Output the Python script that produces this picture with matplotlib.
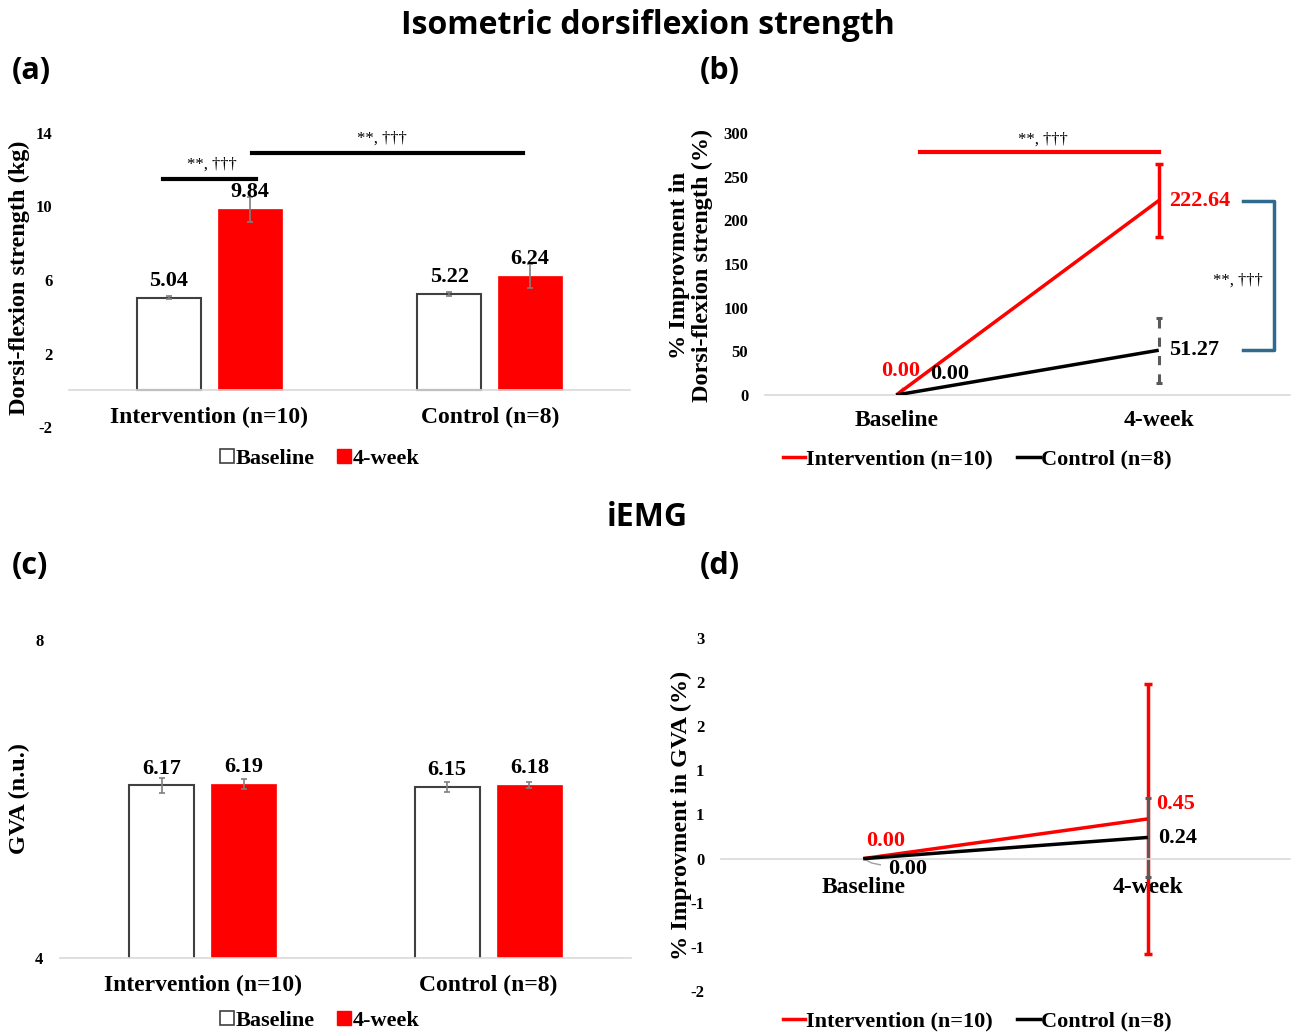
import numpy as np
import matplotlib
matplotlib.use("Agg")
import matplotlib.pyplot as plt
from matplotlib.patches import Patch
from matplotlib.lines import Line2D
from matplotlib.ticker import FuncFormatter, MultipleLocator

plt.rcParams['axes.unicode_minus'] = False

# ---------------- data ----------------
groups = ['Intervention (n=10)', 'Control (n=8)']
strength_base = [5.04, 5.22]
strength_base_err = [0.10, 0.10]
strength_4wk = [9.84, 6.24]
strength_4wk_err = [0.70, 0.65]

gva_base = [6.17, 6.15]
gva_base_err = [0.09, 0.06]
gva_4wk = [6.19, 6.18]
gva_4wk_err = [0.06, 0.04]

times = ['Baseline', '4-week']
imp_str_int = [0.00, 222.64]
imp_str_int_err = [0.0, 42.0]
imp_str_ctl = [0.00, 51.27]
imp_str_ctl_err = [0.0, 37.0]

imp_gva_int = [0.00, 0.45]
imp_gva_int_err = [0.0, 1.53]
imp_gva_ctl = [0.00, 0.24]
imp_gva_ctl_err = [0.0, 0.45]

sig_text = '**, \u2020\u2020\u2020'

# ---------------- style ----------------
W, H = 1295, 1033
SERIF = 'Liberation Serif'
SANS = ['Open Sans', 'DejaVu Sans']
RED = '#FF0000'
AXC = '#d9d9d9'
ERRC = '#7f7f7f'
CAT_FS = 17
VAL_FS = 16
TICK_FS = 12
LAB_FS = 17.5
SIG_FS = 12

fig = plt.figure(figsize=(W / 100, H / 100), dpi=100)


def rect(l, t, r, b):
    return [l / W, 1 - b / H, (r - l) / W, (b - t) / H]


def fx(x):
    return x / W


def fy(y):
    return 1 - y / H


def style_ticks(ax):
    for lab in ax.get_yticklabels():
        lab.set_fontfamily(SERIF)
        lab.set_fontweight('bold')
        lab.set_fontsize(TICK_FS)
    for lab in ax.get_xticklabels():
        lab.set_fontfamily(SERIF)
        lab.set_fontweight('bold')
        lab.set_fontsize(CAT_FS)


def clean(ax, zero_axis=False):
    for s in ['top', 'right', 'left']:
        ax.spines[s].set_visible(False)
    if zero_axis:
        ax.spines['bottom'].set_position(('data', 0))
    ax.spines['bottom'].set_color(AXC)
    ax.spines['bottom'].set_linewidth(1.2)
    ax.tick_params(axis='both', length=0)
    ax.patch.set_alpha(0)


def bar_panel(ax, base, base_err, wk, wk_err, ylim, yticks, zero_axis):
    clean(ax, zero_axis)
    x = np.arange(len(groups))
    w, off = 0.228, 0.144
    ax.bar(x - off, base, w, color='white', edgecolor='#404040', linewidth=1.5, zorder=2)
    ax.bar(x + off, wk, w, color=RED, edgecolor=RED, linewidth=0.5, zorder=2)
    ax.errorbar(x - off, base, yerr=base_err, fmt='none', ecolor=ERRC,
                elinewidth=1.2, capsize=2.5, capthick=1.2, zorder=3)
    ax.errorbar(x + off, wk, yerr=wk_err, fmt='none', ecolor=ERRC,
                elinewidth=1.2, capsize=2.5, capthick=1.2, zorder=3)
    ax.set_xlim(-0.5, 1.5)
    ax.set_ylim(*ylim)
    ax.set_yticks(yticks)
    ax.set_xticks(x)
    ax.set_xticklabels(groups)
    ax.tick_params(axis='x', pad=12)
    ax.tick_params(axis='y', pad=12)
    style_ticks(ax)
    for xi, v in zip(x - off, base):
        ax.annotate(f'{v:.2f}', (xi, v), xytext=(0, 5), textcoords='offset points',
                    ha='center', va='bottom', fontfamily=SERIF, fontweight='bold', fontsize=VAL_FS)
    for xi, v in zip(x + off, wk):
        ax.annotate(f'{v:.2f}', (xi, v), xytext=(0, 5), textcoords='offset points',
                    ha='center', va='bottom', fontfamily=SERIF, fontweight='bold', fontsize=VAL_FS)
    return x, off


# ---------------- panel (a) ----------------
axa = fig.add_axes(rect(69, 133, 630, 427))
bar_panel(axa, strength_base, strength_base_err, strength_4wk,
          strength_4wk_err, (-2, 14), [-2, 2, 6, 10, 14], True)
axa.plot([-0.164, 0.167], [11.5, 11.5], color='black', lw=3, clip_on=False)
axa.text(0.01, 11.85, sig_text, ha='center', va='bottom', fontfamily=SERIF, fontsize=SIG_FS)
axa.plot([0.153, 1.12], [12.9, 12.9], color='black', lw=3, clip_on=False)
axa.text(0.616, 13.25, sig_text, ha='center', va='bottom', fontfamily=SERIF, fontsize=SIG_FS)

# ---------------- panel (c) ----------------
axc = fig.add_axes(rect(60, 640, 631, 958))
bar_panel(axc, gva_base, gva_base_err, gva_4wk, gva_4wk_err, (4, 8), [4, 8], False)


# ---------------- line panels ----------------
def line_panel(ax, yi, yi_err, yc, yc_err, ctl_dash, zero_axis):
    clean(ax, zero_axis)
    xp = np.array([0.5, 1.5])
    ax.plot(xp, yi, color=RED, lw=2.5, zorder=3, solid_capstyle='butt')
    ax.plot(xp, yc, color='black', lw=2.5, zorder=3, solid_capstyle='butt')
    ax.errorbar(xp[1:], yi[1:], yerr=yi_err[1:], fmt='none', ecolor=RED,
                elinewidth=2.5, capsize=3, capthick=2.5, zorder=2)
    eb = ax.errorbar(xp[1:], yc[1:], yerr=yc_err[1:], fmt='none', ecolor='#595959',
                     elinewidth=2.2, capsize=2.5, capthick=2.2, zorder=2)
    if ctl_dash:
        eb[2][0].set_linestyle((0, (3, 3)))
    ax.set_xlim(0, 2)
    ax.set_xticks(xp)
    ax.set_xticklabels(times)
    ax.tick_params(axis='x', pad=11)
    ax.tick_params(axis='y', pad=12)
    return xp


axb = fig.add_axes(rect(765, 133, 1290, 395))
xp = line_panel(axb, imp_str_int, imp_str_int_err, imp_str_ctl, imp_str_ctl_err, True, False)
axb.set_ylim(0, 300)
axb.set_yticks(np.arange(0, 301, 50))
style_ticks(axb)
axb.text(xp[0] + 0.09, 27, f'{imp_str_int[0]:.2f}', color=RED, ha='right', va='center',
         fontfamily=SERIF, fontweight='bold', fontsize=VAL_FS)
axb.text(xp[0] + 0.13, 24, f'{imp_str_ctl[0]:.2f}', color='black', ha='left', va='center',
         fontfamily=SERIF, fontweight='bold', fontsize=VAL_FS)
axb.plot([xp[0], xp[0] + 0.025], [0, 8], color='#a0a0a0', lw=1)
axb.text(xp[1] + 0.04, imp_str_int[1], f'{imp_str_int[1]:.2f}', color=RED, ha='left',
         va='center', fontfamily=SERIF, fontweight='bold', fontsize=VAL_FS)
axb.text(xp[1] + 0.04, imp_str_ctl[1], f'{imp_str_ctl[1]:.2f}', color='black', ha='left',
         va='center', fontfamily=SERIF, fontweight='bold', fontsize=VAL_FS)
axb.plot([0.59, 1.5], [278, 278], color=RED, lw=3, clip_on=False)
axb.text(1.06, 283, sig_text, ha='center', va='bottom', fontfamily=SERIF, fontsize=SIG_FS)
BR = '#2E6B8C'
axb.plot([1.82, 1.94, 1.94, 1.82], [imp_str_int[1], imp_str_int[1], imp_str_ctl[1], imp_str_ctl[1]],
         color=BR, lw=2.5, clip_on=False)
axb.text(1.80, 131, sig_text, ha='center', va='center', fontfamily=SERIF, fontsize=SIG_FS)

axd = fig.add_axes(rect(721, 638, 1290, 991))
xp = line_panel(axd, imp_gva_int, imp_gva_int_err, imp_gva_ctl, imp_gva_ctl_err, False, True)
axd.set_ylim(-1.5, 2.5)
axd.yaxis.set_major_locator(MultipleLocator(0.5))


def excel_round(v, pos):
    s = -1 if v < 0 else 1
    n = int(np.floor(abs(v) + 0.5 + 1e-9))
    return str(s * n) if n != 0 else '0'


axd.yaxis.set_major_formatter(FuncFormatter(excel_round))
axd.tick_params(axis='x', pad=13)
fig.canvas.draw()
style_ticks(axd)
axd.text(xp[0] + 0.08, 0.2, f'{imp_gva_int[0]:.2f}', color=RED, ha='center', va='center',
         fontfamily=SERIF, fontweight='bold', fontsize=VAL_FS)
axd.text(xp[0] + 0.155, -0.12, f'{imp_gva_ctl[0]:.2f}', color='black', ha='center', va='center',
         fontfamily=SERIF, fontweight='bold', fontsize=VAL_FS)
axd.plot([xp[0], xp[0] + 0.03, xp[0] + 0.06], [0, -0.05, -0.07], color='#a0a0a0', lw=1)
axd.text(xp[1] + 0.03, 0.62, f'{imp_gva_int[1]:.2f}', color=RED, ha='left',
         va='center', fontfamily=SERIF, fontweight='bold', fontsize=VAL_FS)
axd.text(xp[1] + 0.035, 0.23, f'{imp_gva_ctl[1]:.2f}', color='black', ha='left',
         va='center', fontfamily=SERIF, fontweight='bold', fontsize=VAL_FS)

# ---------------- y labels ----------------
lab_kw = dict(rotation=90, ha='center', va='center', fontfamily=SERIF, fontweight='bold', fontsize=LAB_FS)
fig.text(fx(19), fy(278), 'Dorsi-flexion strength (kg)', **lab_kw)
fig.text(fx(19), fy(799), 'GVA (n.u.)', **lab_kw)
fig.text(fx(691), fy(265), '% Improvment in\nDorsi-flexion strength (%)', linespacing=1.1, **lab_kw)
fig.text(fx(681), fy(815), '% Improvment in GVA (%)', **lab_kw)

# ---------------- titles ----------------
fig.text(0.5, fy(25), 'Isometric dorsiflexion strength', ha='center', va='center',
         fontfamily=SANS, fontweight='bold', fontsize=23)
fig.text(0.5, fy(518), 'iEMG', ha='center', va='center',
         fontfamily=SANS, fontweight='bold', fontsize=23)
for t, xx, yy in [('(a)', 12, 71), ('(b)', 700, 71), ('(c)', 12, 566), ('(d)', 700, 566)]:
    fig.text(fx(xx), fy(yy), t, ha='left', va='center', fontfamily=SANS,
             fontweight='bold', fontsize=22)

# ---------------- legends ----------------
leg_font = dict(family=SERIF, weight='bold', size=16)
bar_handles = [Patch(facecolor='white', edgecolor='#404040', linewidth=1.2),
               Patch(facecolor=RED, edgecolor=RED)]
line_handles = [Line2D([], [], color=RED, lw=2.5), Line2D([], [], color='black', lw=2.5)]
for handles, cx, cy in [(bar_handles, 320, 459), (bar_handles, 320, 1021)]:
    fig.legend(handles, ['Baseline', '4-week'], loc='center', bbox_to_anchor=(fx(cx), fy(cy)),
               frameon=False, prop=leg_font, ncol=2, handlelength=0.6, handleheight=0.6,
               handletextpad=0.1, columnspacing=1.0, borderpad=0)
for cx, cy in [(977, 459), (977, 1021)]:
    fig.legend(line_handles, ['Intervention (n=10)', 'Control (n=8)'], loc='center',
               bbox_to_anchor=(fx(cx), fy(cy)), frameon=False, prop=leg_font, ncol=2,
               handlelength=1.0, handletextpad=0.05, columnspacing=1.1, borderpad=0)

fig.savefig('out.png', dpi=100)
